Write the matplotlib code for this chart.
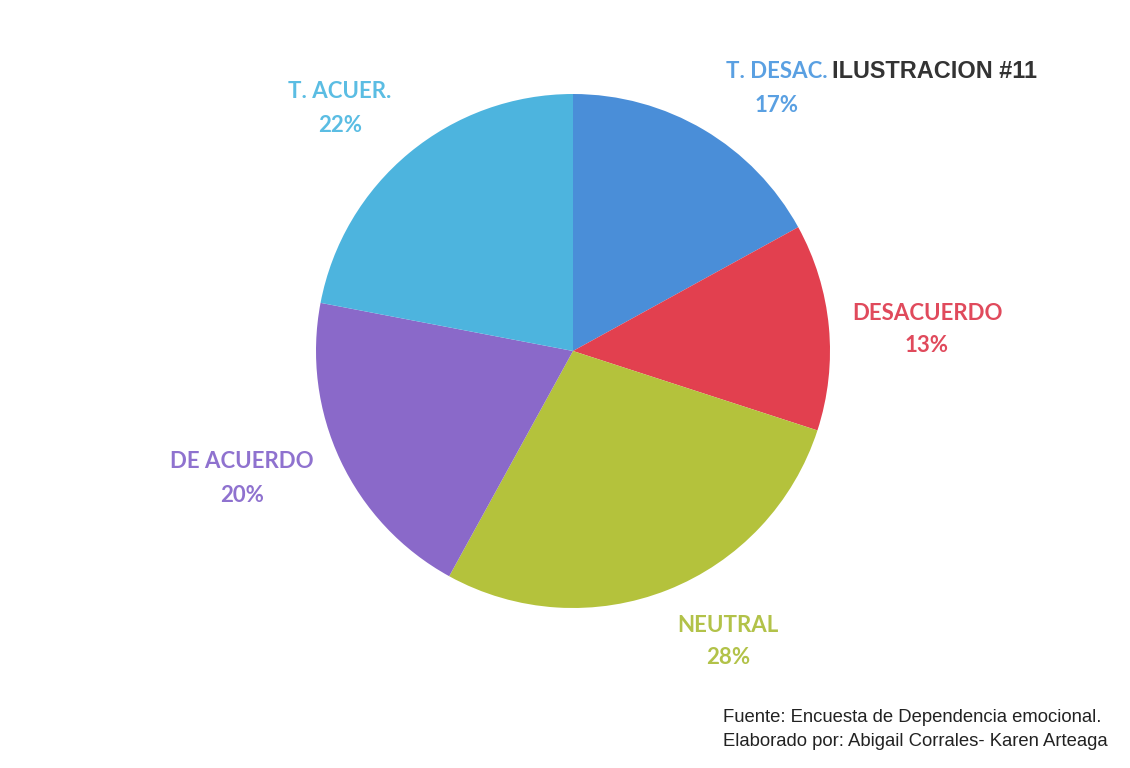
import matplotlib.pyplot as plt

# data
labels = ['T. DESAC.', 'DESACUERDO', 'NEUTRAL', 'DE ACUERDO', 'T. ACUER.']
percents = [17, 13, 28, 20, 22]
slice_colors = ['#4a8ed8', '#e2404f', '#b4c23c', '#8a69c9', '#4db4de']
text_colors = ['#5aa0e2', '#e04a5c', '#b2c249', '#8f72cf', '#5bbde3']
# label positions in pixels (x, y from top)
label_pos = [(777, 72), (927, 313), (728, 625), (242, 462), (340, 92)]

W, H = 1130, 768

fig = plt.figure(figsize=(W / 100, H / 100), dpi=100)
ax = fig.add_axes([0, 0, 1, 1])

ax.pie(percents, colors=slice_colors, startangle=90, counterclock=False,
       center=(573, H - 351), radius=257, frame=True,
       wedgeprops=dict(linewidth=0))
ax.set_xlim(0, W)
ax.set_ylim(0, H)
ax.set_aspect('equal')
ax.axis('off')

for lab, p, c, (x, y) in zip(labels, percents, text_colors, label_pos):
	ax.text(x, H - y, lab, ha='center', va='center', color=c,
			fontsize=16, fontweight='bold', family='Lato')
	ax.text(x, H - y - 33, '%d%%' % p, ha='center', va='center', color=c,
			fontsize=16, fontweight='bold', family='Lato')

ax.text(832, H - 72, 'ILUSTRACION #11', ha='left', va='center', color='#333333',
		fontsize=16.9, fontweight='bold', family='Liberation Sans')

# source note, bottom right
ax.text(723, H - 718, 'Fuente: Encuesta de Dependencia emocional.', ha='left', va='center',
		color='#222222', fontsize=13.3, family='Liberation Sans')
ax.text(723, H - 742, 'Elaborado por: Abigail Corrales- Karen Arteaga', ha='left', va='center',
		color='#222222', fontsize=13.3, family='Liberation Sans')

fig.savefig('out.png', dpi=100)
